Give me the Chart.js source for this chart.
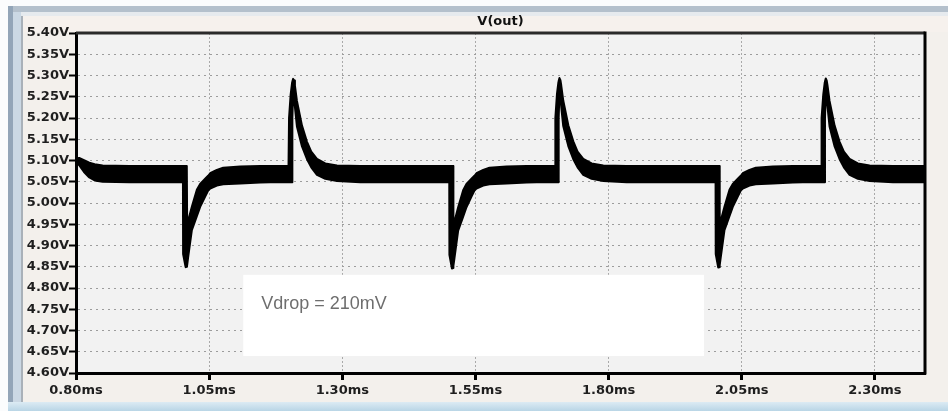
<!DOCTYPE html>
<html>
<head>
<meta charset="utf-8">
<script src="https://cdn.jsdelivr.net/npm/chart.js@4.4.1/dist/chart.umd.min.js"></script>
<style>
html,body{margin:0;padding:0;background:#f3f0ec;overflow:hidden}
#wrap{position:relative;width:948px;height:411px}
canvas{display:block}
</style>
</head>
<body>
<div id="wrap"><canvas id="c" width="948" height="411"></canvas></div>
<script>
// ---------- data ----------
const chartTitle = 'V(out)';
const annotationText = 'Vdrop = 210mV';

const xTicks = [0.80, 1.05, 1.30, 1.55, 1.80, 2.05, 2.30];
const xTickLabels = ['0.80ms', '1.05ms', '1.30ms', '1.55ms', '1.80ms', '2.05ms', '2.30ms'];

const yTicks = [4.60, 4.65, 4.70, 4.75, 4.80, 4.85, 4.90, 4.95, 5.00, 5.05, 5.10, 5.15, 5.20, 5.25, 5.30, 5.35, 5.40];
const yTickLabels = ['4.60V', '4.65V', '4.70V', '4.75V', '4.80V', '4.85V', '4.90V', '4.95V', '5.00V', '5.05V', '5.10V', '5.15V', '5.20V', '5.25V', '5.30V', '5.35V', '5.40V'];

// time (ms) of the envelope points of the V(out) ripple band
const timeMs = [
  0.800, 0.806, 0.815, 0.825, 0.835, 0.850, 0.900,
  0.9990, 1.0008, 1.0011, 1.0058, 1.0080, 1.0084, 1.0087, 1.0105, 1.0175, 1.0269, 1.0331, 1.0425, 1.0481, 1.0519, 1.0645, 1.0763, 1.1083, 1.1459, 1.1647,
  1.1990, 1.1997, 1.2000, 1.2030, 1.2058, 1.2062, 1.2077, 1.2095, 1.2110, 1.2148, 1.2243, 1.2337, 1.2417, 1.2524, 1.2680, 1.2900, 1.3338,
  1.4990, 1.5008, 1.5011, 1.5058, 1.5080, 1.5084, 1.5087, 1.5105, 1.5175, 1.5269, 1.5331, 1.5425, 1.5481, 1.5519, 1.5645, 1.5763, 1.6083, 1.6459, 1.6647,
  1.6990, 1.6997, 1.7000, 1.7030, 1.7058, 1.7062, 1.7077, 1.7095, 1.7110, 1.7148, 1.7243, 1.7337, 1.7417, 1.7524, 1.7680, 1.7900, 1.8338,
  1.9990, 2.0008, 2.0011, 2.0058, 2.0080, 2.0084, 2.0087, 2.0105, 2.0175, 2.0269, 2.0331, 2.0425, 2.0481, 2.0519, 2.0645, 2.0763, 2.1083, 2.1459, 2.1647,
  2.1990, 2.1997, 2.2000, 2.2030, 2.2058, 2.2062, 2.2077, 2.2095, 2.2110, 2.2148, 2.2243, 2.2337, 2.2417, 2.2524, 2.2680, 2.2900, 2.3338,
  2.394
];
// upper edge of the band (V)
const vUpper = [
  5.105, 5.106, 5.101, 5.095, 5.091, 5.088, 5.087,
  5.087, 5.087, 5.087, 5.087, 5.087, 5.087, 4.945, 4.958, 4.991, 5.031, 5.045, 5.057, 5.064, 5.070, 5.078, 5.083, 5.086, 5.087, 5.087,
  5.087, 5.087, 5.200, 5.255, 5.284, 5.286, 5.292, 5.288, 5.276, 5.240, 5.182, 5.144, 5.121, 5.104, 5.093, 5.088, 5.087,
  5.087, 5.087, 5.087, 5.087, 5.087, 5.087, 4.943, 4.956, 4.990, 5.030, 5.045, 5.057, 5.064, 5.070, 5.078, 5.083, 5.086, 5.087, 5.087,
  5.087, 5.087, 5.200, 5.256, 5.285, 5.287, 5.294, 5.289, 5.277, 5.241, 5.183, 5.145, 5.121, 5.104, 5.093, 5.088, 5.087,
  5.087, 5.087, 5.087, 5.087, 5.087, 5.087, 4.945, 4.958, 4.991, 5.031, 5.045, 5.057, 5.064, 5.070, 5.078, 5.083, 5.086, 5.087, 5.087,
  5.087, 5.087, 5.200, 5.255, 5.284, 5.286, 5.293, 5.288, 5.276, 5.240, 5.182, 5.144, 5.121, 5.104, 5.093, 5.088, 5.087,
  5.087
];
// lower edge of the band (V)
const vLower = [
  5.093, 5.089, 5.073, 5.060, 5.053, 5.050, 5.049,
  5.049, 5.049, 4.880, 4.849, 4.850, 4.852, 4.854, 4.872, 4.936, 4.969, 4.991, 5.015, 5.029, 5.034, 5.041, 5.044, 5.046, 5.048, 5.049,
  5.049, 5.049, 5.049, 5.049, 5.049, 5.200, 5.258, 5.250, 5.226, 5.180, 5.133, 5.103, 5.084, 5.066, 5.057, 5.052, 5.049,
  5.049, 5.049, 4.878, 4.846, 4.847, 4.850, 4.852, 4.870, 4.935, 4.968, 4.990, 5.015, 5.029, 5.034, 5.041, 5.044, 5.046, 5.048, 5.049,
  5.049, 5.049, 5.049, 5.049, 5.049, 5.200, 5.259, 5.251, 5.227, 5.181, 5.134, 5.103, 5.084, 5.066, 5.057, 5.052, 5.049,
  5.049, 5.049, 4.880, 4.848, 4.849, 4.852, 4.854, 4.872, 4.936, 4.969, 4.991, 5.015, 5.029, 5.034, 5.041, 5.044, 5.046, 5.048, 5.049,
  5.049, 5.049, 5.049, 5.049, 5.049, 5.200, 5.258, 5.250, 5.226, 5.180, 5.133, 5.103, 5.084, 5.066, 5.057, 5.052, 5.049,
  5.049
];

// annotation box extent in data units
const noteBoxX = [1.114, 1.979];
const noteBoxY = [4.831, 4.640];

// ---------- chart ----------
const tickFont = {family: "'DejaVu Sans', 'Liberation Sans', sans-serif", size: 13, weight: 'bold'};

const frame = {
  id: 'frame',
  beforeDraw(chart) {
    const ctx = chart.ctx, W = chart.width, H = chart.height, a = chart.chartArea;
    ctx.save();
    ctx.fillStyle = '#f3f0ec'; ctx.fillRect(0, 0, W, H);
    ctx.fillStyle = '#f6f1ed'; ctx.fillRect(0, 16, W, 16);
    ctx.fillStyle = '#fbfcfd'; ctx.fillRect(0, 0, W, 6);
    ctx.fillStyle = '#b4c0cc'; ctx.fillRect(0, 6, W, 6);
    ctx.fillStyle = '#e6eaee'; ctx.fillRect(0, 12, W, 4);
    ctx.fillStyle = '#fbfcfd'; ctx.fillRect(0, 0, 8, H);
    ctx.fillStyle = '#93a5b8'; ctx.fillRect(8, 6, 5, H - 6);
    ctx.fillStyle = '#cbd8e4'; ctx.fillRect(13, 12, 8, H - 12);
    ctx.fillStyle = '#a9b1b9'; ctx.fillRect(21, 16, 2, H - 16);
    const g = ctx.createLinearGradient(0, 402, 0, H);
    g.addColorStop(0, '#dcebf3'); g.addColorStop(1, '#b9d5e6');
    ctx.fillStyle = g; ctx.fillRect(8, 402, W - 8, H - 402);
    ctx.fillStyle = '#f2f2f2';
    ctx.fillRect(a.left, a.top, a.right - a.left, a.bottom - a.top);
    ctx.restore();
  },
  afterDraw(chart) {
    const ctx = chart.ctx, a = chart.chartArea;
    const xs = chart.scales.x, ys = chart.scales.y;
    ctx.save();
    // top and right plot frame
    ctx.strokeStyle = '#2a2a2a'; ctx.lineWidth = 3;
    ctx.beginPath(); ctx.moveTo(a.left, a.top); ctx.lineTo(a.right, a.top); ctx.stroke();
    ctx.strokeStyle = '#000';
    ctx.beginPath(); ctx.moveTo(a.right, a.top - 1.5); ctx.lineTo(a.right, a.bottom + 1.5); ctx.stroke();
    // title
    ctx.fillStyle = '#111';
    ctx.font = "bold 13px 'DejaVu Sans', 'Liberation Sans', sans-serif";
    ctx.textAlign = 'center'; ctx.textBaseline = 'middle';
    ctx.fillText(chartTitle, (a.left + a.right) / 2, 22);
    // annotation box
    const bx0 = xs.getPixelForValue(noteBoxX[0]), bx1 = xs.getPixelForValue(noteBoxX[1]);
    const by0 = ys.getPixelForValue(noteBoxY[0]), by1 = ys.getPixelForValue(noteBoxY[1]);
    ctx.fillStyle = '#ffffff';
    ctx.fillRect(bx0, by0, bx1 - bx0, by1 - by0);
    ctx.fillStyle = '#6e6e6e';
    ctx.font = "18px 'Liberation Sans', Arial, sans-serif";
    ctx.textAlign = 'left'; ctx.textBaseline = 'alphabetic';
    ctx.fillText(annotationText, bx0 + 18, by0 + 34);
    ctx.restore();
  }
};

new Chart(document.getElementById('c'), {
  type: 'line',
  data: {
    datasets: [
      {
        label: 'V(out) upper',
        data: timeMs.map((t, i) => ({x: t, y: vUpper[i]})),
        borderColor: '#000', borderWidth: 2, pointRadius: 0, tension: 0,
        borderJoinStyle: 'round', fill: false
      },
      {
        label: 'V(out) lower',
        data: timeMs.map((t, i) => ({x: t, y: vLower[i]})),
        borderColor: '#000', borderWidth: 2, pointRadius: 0, tension: 0,
        borderJoinStyle: 'round', fill: '-1', backgroundColor: '#000'
      }
    ]
  },
  options: {
    responsive: false,
    animation: false,
    devicePixelRatio: 1,
    layout: {padding: {left: 0, right: 23, top: 33, bottom: 0}},
    plugins: {legend: {display: false}, tooltip: {enabled: false}, title: {display: false}},
    scales: {
      x: {
        type: 'linear', min: 0.8, max: 2.394,
        afterBuildTicks: s => { s.ticks = xTicks.map(v => ({value: v})); },
        afterFit: s => { s.height = 38; },
        ticks: {
          callback: v => xTickLabels[xTicks.indexOf(v)],
          font: tickFont, color: '#1e1e1e', maxRotation: 0, autoSkip: false, padding: 3
        },
        grid: {color: '#a9a9a9', lineWidth: 1, drawTicks: true, tickLength: 7, tickWidth: 3, tickColor: '#000', tickBorderDash: []},
        border: {display: true, color: '#000', width: 3, dash: [2, 2]}
      },
      y: {
        type: 'linear', min: 4.6, max: 5.4,
        afterBuildTicks: s => { s.ticks = yTicks.map(v => ({value: v})); },
        afterFit: s => { s.width = 76; },
        ticks: {
          callback: v => yTickLabels[yTicks.indexOf(v)],
          font: tickFont, color: '#1e1e1e', autoSkip: false, padding: 0
        },
        grid: {color: '#9c9c9c', lineWidth: 1, drawTicks: true, tickLength: 7, tickWidth: 2, tickColor: '#000', tickBorderDash: []},
        border: {display: true, color: '#000', width: 3, dash: [2, 4]}
      }
    }
  },
  plugins: [frame]
});
</script>
</body>
</html>
